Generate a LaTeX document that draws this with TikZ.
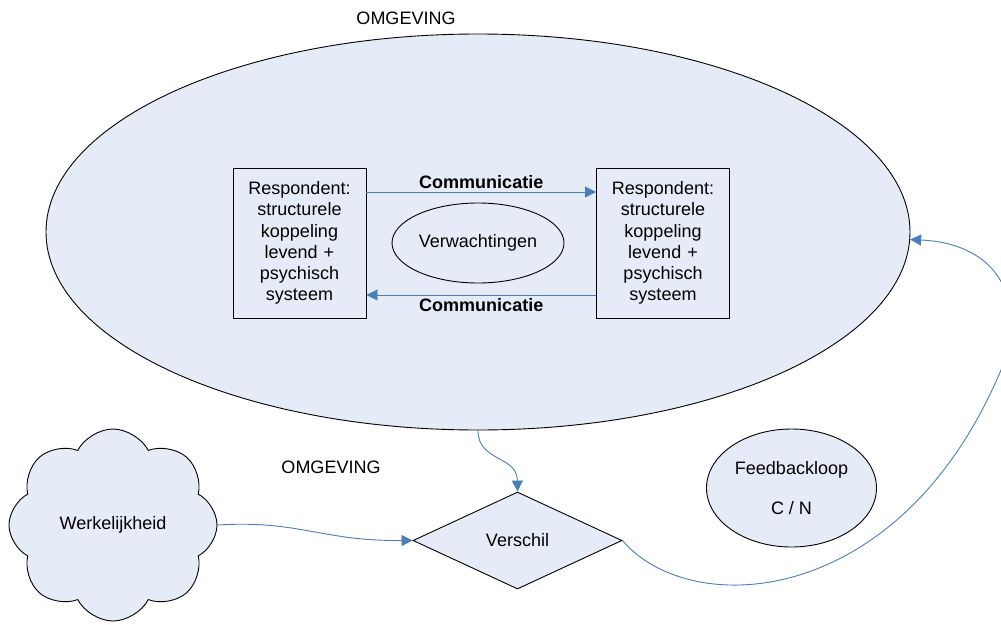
\documentclass[tikz,border=0pt]{standalone}
\usepackage{fontspec}
\setmainfont{Liberation Sans}
\usetikzlibrary{shapes.geometric,shapes.symbols,arrows.meta}
\definecolor{paleblue}{RGB}{230,236,247}
\definecolor{linkblue}{RGB}{74,126,187}
\tikzset{
  shapeline/.style={draw=black, line width=0.9pt},
  filled/.style={shapeline, fill=paleblue},
  label/.style={font=\fontsize{18}{21.3}\selectfont, align=center, inner sep=0pt},
  respbox/.style={filled, rectangle, minimum width=133, minimum height=150,
    label, text width=125},
  link/.style={draw=linkblue, line width=0.9pt,
    -{Triangle[width=11pt,length=11pt]}},
}
\begin{document}
\begin{tikzpicture}[x=1pt,y=-1pt]
\useasboundingbox (0,0) rectangle (1001,624);

% environment ellipse and its title
\node[label] (omgtop) at (406,18) {OMGEVING};
\node[filled, ellipse, minimum width=864, minimum height=396] (omg) at (478,232) {};

% the two respondents
\node[respbox] (left) at (299.5,243) {Respondent:\\structurele\\koppeling\\levend +\\psychisch\\systeem};
\node[respbox] (right) at (663,243) {Respondent:\\structurele\\koppeling\\levend +\\psychisch\\systeem};

\node[shapeline, ellipse, minimum width=172, minimum height=80, label] (verw) at (478,243) {Verwachtingen};

% communication both ways
\draw[link] (left.east |- 0,192) -- (right.west |- 0,192)
  node[midway, above=3pt, label, font=\fontsize{18}{21.3}\selectfont\bfseries] (comtop) {Communicatie};
\draw[link] (right.west |- 0,295) -- (left.east |- 0,295)
  node[midway, below=3pt, label, font=\fontsize{18}{21.3}\selectfont\bfseries] (combot) {Communicatie};

% lower part
\node[label] (omgbot) at (331,467) {OMGEVING};
\node[filled, cloud, cloud puffs=8, cloud puff arc=125, aspect=1.05,
  minimum width=208, minimum height=192, label] (werk) at (113,525) {Werkelijkheid};
\node[filled, diamond, aspect=2.15, minimum width=209, minimum height=97, label] (verschil) at (517.5,540.5) {Verschil};
\node[filled, ellipse, minimum width=170, minimum height=118, label] (fb) at (791.5,488)
  {Feedbackloop\\[19pt]C / N};

% connectors
\draw[link] (omg.south) .. controls (478,462) and (517,455) .. (verschil.north);
\draw[link] (werk.east) .. controls (300,520) and (320,541) .. (verschil.west);
\coordinate (loopturn) at (1001,370);
\draw[link] (verschil.east) .. controls (690,620) and (900,610) .. (loopturn)
  .. controls (1030,290) and (990,243) .. (omg.-1.5);
\end{tikzpicture}
\end{document}
